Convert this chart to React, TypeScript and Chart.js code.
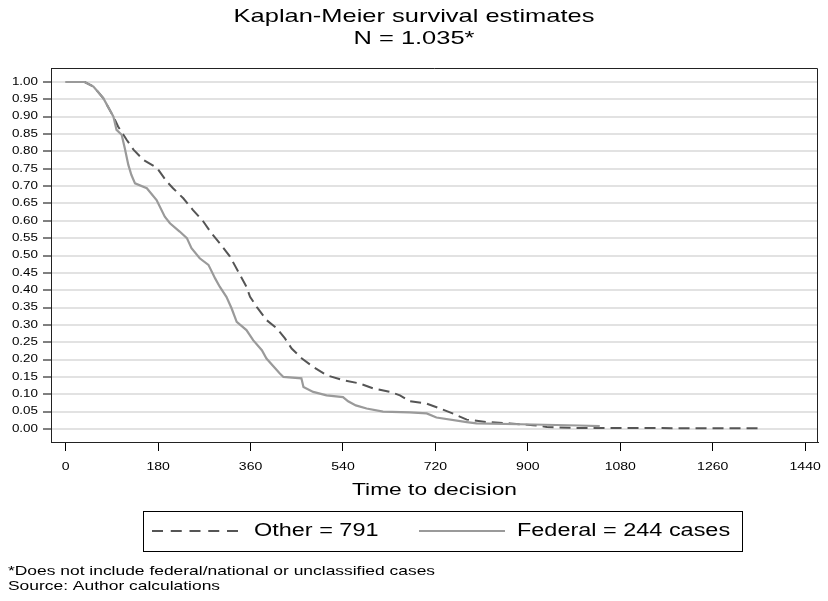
import React, { useEffect, useRef } from "react";
import { Chart, registerables } from "chart.js";

Chart.register(...registerables);

// ---------- data ----------
const TITLE = "Kaplan-Meier survival estimates";
const SUBTITLE = "N = 1.035*";
const X_TITLE = "Time to decision";
const X_TICKS = [0, 180, 360, 540, 720, 900, 1080, 1260, 1440];
const Y_TICKS = [0, 0.05, 0.1, 0.15, 0.2, 0.25, 0.3, 0.35, 0.4, 0.45, 0.5, 0.55, 0.6, 0.65, 0.7, 0.75, 0.8, 0.85, 0.9, 0.95, 1.0];
const OTHER_LABEL = "Other = 791";
const FEDERAL_LABEL = "Federal = 244 cases";
const NOTES = ["*Does not include federal/national or unclassified cases", "Source: Author calculations"];

const OTHER_T = [0, 37, 54, 73, 93, 102, 119, 132, 151, 178, 197, 209, 229, 248, 268, 284, 300, 320, 339, 352, 359, 372, 391, 411, 427, 440, 460, 482, 508, 540, 573, 599, 631, 651, 670, 703, 729, 755, 781, 820, 865, 910, 937, 988, 1350];
const OTHER_S = [1, 1, 0.987, 0.954, 0.9, 0.872, 0.833, 0.805, 0.776, 0.752, 0.713, 0.694, 0.665, 0.631, 0.598, 0.564, 0.535, 0.497, 0.445, 0.41, 0.381, 0.352, 0.314, 0.29, 0.261, 0.232, 0.203, 0.179, 0.155, 0.141, 0.131, 0.117, 0.107, 0.097, 0.08, 0.073, 0.059, 0.044, 0.027, 0.02, 0.016, 0.011, 0.006, 0.003, 0.002];

const FED_T = [0, 37, 54, 73, 93, 99, 109, 115, 122, 128, 135, 158, 177, 193, 203, 222, 236, 245, 261, 278, 291, 300, 313, 323, 333, 352, 365, 382, 391, 417, 424, 459, 463, 482, 508, 540, 550, 565, 586, 618, 670, 703, 722, 781, 800, 910, 1000, 1040];
const FED_S = [1, 1, 0.987, 0.954, 0.9, 0.862, 0.848, 0.81, 0.761, 0.732, 0.708, 0.694, 0.66, 0.612, 0.593, 0.569, 0.55, 0.521, 0.492, 0.473, 0.434, 0.41, 0.381, 0.348, 0.309, 0.285, 0.256, 0.227, 0.203, 0.16, 0.15, 0.146, 0.121, 0.107, 0.097, 0.092, 0.08, 0.068, 0.059, 0.05, 0.048, 0.045, 0.033, 0.02, 0.016, 0.013, 0.01, 0.008];

// ---------- styles ----------
const W = 828;
const H = 601;
const SX = 1.34; // horizontal text stretch seen in the reference
const FONT = "'Liberation Sans', Arial, Helvetica, sans-serif";
const OTHER_COLOR = "#555555";
const FED_COLOR = "#9a9a9a";
const OTHER_DASH = [11, 6];

function stretchText(
  ctx: CanvasRenderingContext2D,
  text: string,
  x: number,
  y: number,
  size: number,
  align: CanvasTextAlign
) {
  ctx.save();
  ctx.font = `${size}px ${FONT}`;
  ctx.fillStyle = "#000";
  ctx.textAlign = align;
  ctx.textBaseline = "middle";
  ctx.translate(x, y);
  ctx.scale(SX, 1);
  ctx.fillText(text, 0, 0);
  ctx.restore();
}

const decorPlugin = {
  id: "decor",
  afterDraw(chart: any) {
    const ctx: CanvasRenderingContext2D = chart.ctx;
    const { left, right, top, bottom } = chart.chartArea;
    const xs = chart.scales.x;
    const ys = chart.scales.y;

    // top and right frame
    ctx.save();
    ctx.strokeStyle = "#222";
    ctx.lineWidth = 1;
    ctx.beginPath();
    const t = Math.round(top) + 0.5;
    const r = Math.round(right) - 0.5;
    ctx.moveTo(left, t);
    ctx.lineTo(r, t);
    ctx.lineTo(r, bottom);
    ctx.stroke();
    ctx.restore();

    // titles
    stretchText(ctx, TITLE, W / 2, 17, 19, "center");
    stretchText(ctx, SUBTITLE, W / 2, 39, 19, "center");

    // tick labels
    Y_TICKS.forEach((v) => {
      stretchText(ctx, v.toFixed(2), 38, ys.getPixelForValue(v), 10, "right");
    });
    X_TICKS.forEach((v) => {
      stretchText(ctx, String(v), xs.getPixelForValue(v), 467, 10.5, "center");
    });

    // axis title
    stretchText(ctx, X_TITLE, (left + right) / 2, 490, 17, "center");

    // legend
    const bx0 = 143, bx1 = 742, by0 = 511, by1 = 551;
    const cy = (by0 + by1) / 2;
    ctx.save();
    ctx.strokeStyle = "#000";
    ctx.lineWidth = 1;
    ctx.strokeRect(bx0 + 0.5, by0 + 0.5, bx1 - bx0, by1 - by0);
    ctx.lineWidth = 2;
    ctx.strokeStyle = OTHER_COLOR;
    ctx.setLineDash([11, 7.75]);
    ctx.beginPath();
    ctx.moveTo(152, cy);
    ctx.lineTo(238, cy);
    ctx.stroke();
    ctx.setLineDash([]);
    ctx.strokeStyle = FED_COLOR;
    ctx.beginPath();
    ctx.moveTo(419, cy);
    ctx.lineTo(505, cy);
    ctx.stroke();
    ctx.restore();
    stretchText(ctx, OTHER_LABEL, 254, cy, 17.5, "left");
    stretchText(ctx, FEDERAL_LABEL, 517, cy, 17.5, "left");

    // notes
    stretchText(ctx, NOTES[0], 8, 571, 13, "left");
    stretchText(ctx, NOTES[1], 8, 586, 13, "left");
  },
};

export default function App() {
  const ref = useRef<HTMLCanvasElement | null>(null);

  useEffect(() => {
    if (!ref.current) return;
    const otherPts = OTHER_T.map((t, i) => ({ x: t, y: OTHER_S[i] }));
    const fedPts = FED_T.map((t, i) => ({ x: t, y: FED_S[i] }));

    const chart = new Chart(ref.current, {
      type: "line",
      data: {
        datasets: [
          {
            label: FEDERAL_LABEL,
            data: fedPts,
            borderColor: FED_COLOR,
            borderWidth: 2.2,
            pointRadius: 0,
            tension: 0,
            fill: false,
          },
          {
            label: OTHER_LABEL,
            data: otherPts,
            borderColor: OTHER_COLOR,
            borderWidth: 2,
            borderDash: OTHER_DASH,
            pointRadius: 0,
            tension: 0,
            fill: false,
          },
        ],
      },
      options: {
        responsive: false,
        animation: false,
        events: [],
        layout: { padding: { top: 68, left: 0, right: 10, bottom: 101 } },
        plugins: {
          legend: { display: false },
          title: { display: false },
          tooltip: { enabled: false },
        },
        scales: {
          x: {
            type: "linear",
            min: -28.6,
            max: 1465,
            afterBuildTicks: (s: any) => {
              s.ticks = X_TICKS.map((v) => ({ value: v }));
            },
            afterFit: (s: any) => {
              s.height = 58;
            },
            ticks: { display: false },
            grid: {
              drawOnChartArea: false,
              drawTicks: true,
              tickLength: 9,
              tickColor: "#000",
              tickWidth: 1,
            },
            border: { display: true, color: "#222", width: 1 },
          },
          y: {
            type: "linear",
            min: -0.0375,
            max: 1.0404,
            afterBuildTicks: (s: any) => {
              s.ticks = Y_TICKS.map((v) => ({ value: v }));
            },
            afterFit: (s: any) => {
              s.width = 51;
            },
            ticks: { display: false },
            grid: {
              color: "#e2e2e2",
              lineWidth: 2,
              drawTicks: true,
              tickLength: 8,
              tickColor: "#000",
              tickWidth: 1,
            },
            border: { display: true, color: "#222", width: 1 },
          },
        },
      },
      plugins: [decorPlugin],
    });
    return () => chart.destroy();
  }, []);

  return (
    <div style={{ position: "absolute", left: 0, top: 0, width: W, height: H, background: "#fff" }}>
      <canvas ref={ref} width={W} height={H} style={{ display: "block", width: W, height: H }} />
    </div>
  );
}
